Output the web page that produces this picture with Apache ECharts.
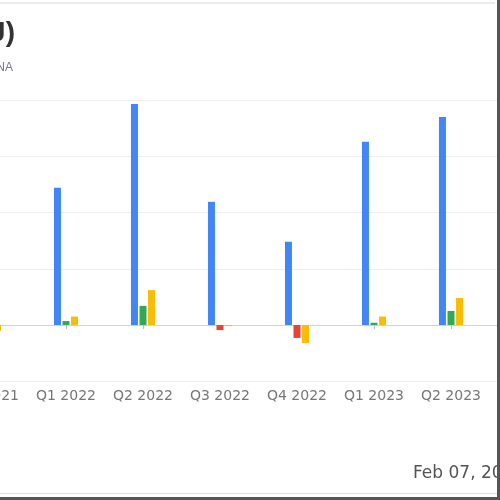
<!DOCTYPE html>
<html>
<head>
<meta charset="utf-8">
<script src="https://cdn.jsdelivr.net/npm/echarts@6/dist/echarts.min.js"></script>
<style>html,body{margin:0;padding:0;background:#fff}#c{width:500px;height:500px}</style>
</head>
<body>
<div id="c"></div>
<script>
// Data (units = one gridline step)
const categories = ["Q4 2021", "Q1 2022", "Q2 2022", "Q3 2022", "Q4 2022", "Q1 2023", "Q2 2023", "Q3 2023"];
const revenue    = [null, 2.44, 3.93, 2.19, 1.48, 3.26, 3.70, null];
const netIncome  = [null, 0.07, 0.34, -0.09, -0.23, 0.04, 0.25, null];
const eps        = [-0.10, 0.15, 0.62, -0.02, -0.32, 0.15, 0.48, null];
const yTicks     = { min: -1, max: 4, interval: 1 };
const titleText  = "Quarterly Results (NYSE:XJ)";
const subtitleText = "Revenue, Net Income and EPS, NA";
const dateText   = "Feb 07, 2024";

const chart = echarts.init(document.getElementById('c'), null, { renderer: 'canvas' });
const BW = 7;
chart.setOption({
  animation: false,
  backgroundColor: '#fff',
  grid: { left: -49.5, width: 616, top: 100, height: 281.25, outerBoundsMode: 'none' },
  xAxis: [
    {
      type: 'category', data: categories, position: 'bottom',
      axisLine: { show: false, onZero: false }, axisTick: { show: false },
      axisLabel: { color: '#777', fontSize: 14, fontFamily: 'DejaVu Sans', margin: 8, interval: 0, hideOverlap: false },
      splitLine: { show: false }
    },
    {
      type: 'category', data: categories, position: 'bottom',
      axisLine: { show: true, onZero: true, lineStyle: { color: '#d3d3d3', width: 1 } },
      axisTick: { show: true, alignWithLabel: true, interval: 0, length: 4, lineStyle: { color: '#bbb' } },
      axisLabel: { show: false }, splitLine: { show: false }
    }
  ],
  yAxis: {
    type: 'value', min: yTicks.min, max: yTicks.max, interval: yTicks.interval,
    axisLabel: { show: false }, axisLine: { show: false }, axisTick: { show: false },
    splitLine: { lineStyle: { color: '#eeeeee', width: 1 } }
  },
  series: [
    { type: 'bar', name: 'Revenue', data: revenue, barWidth: BW, barGap: '22%',
      itemStyle: { color: '#4285F4' } },
    { type: 'bar', name: 'Net Income', data: netIncome, barWidth: BW, barGap: '22%',
      itemStyle: { color: p => (p.value < 0 ? '#EA4335' : '#34A853') } },
    { type: 'bar', name: 'EPS', data: eps, barWidth: BW, barGap: '22%',
      itemStyle: { color: '#FBBC04' } }
  ],
  graphic: [
    { type: 'text', x: 15, y: 33, z: 100, style: { text: titleText, font: 'bold 28px "Liberation Sans", Arial, sans-serif', fill: '#333', textAlign: 'right', textVerticalAlign: 'middle' } },
    { type: 'text', x: 13, y: 68, z: 100, style: { text: subtitleText, font: '12px "Liberation Sans", Arial, sans-serif', fill: '#778', textAlign: 'right', textVerticalAlign: 'middle' } },
    { type: 'text', x: 413, y: 474, z: 100, style: { text: dateText, font: '17px "DejaVu Sans", sans-serif', fill: '#555', textAlign: 'left', textVerticalAlign: 'middle' } },
    { type: 'rect', z: 100, shape: { x: 0, y: 2, width: 495, height: 2 }, style: { fill: '#ececec' } },
    { type: 'rect', z: 100, shape: { x: 0, y: 493, width: 497, height: 1 }, style: { fill: '#e0e0e0' } },
    { type: 'rect', z: 100, shape: { x: 0, y: 497, width: 500, height: 3 }, style: { fill: '#555' } },
    { type: 'rect', z: 100, shape: { x: 497, y: 0, width: 3, height: 500 }, style: { fill: '#555' } }
  ]
});
</script>
</body>
</html>
